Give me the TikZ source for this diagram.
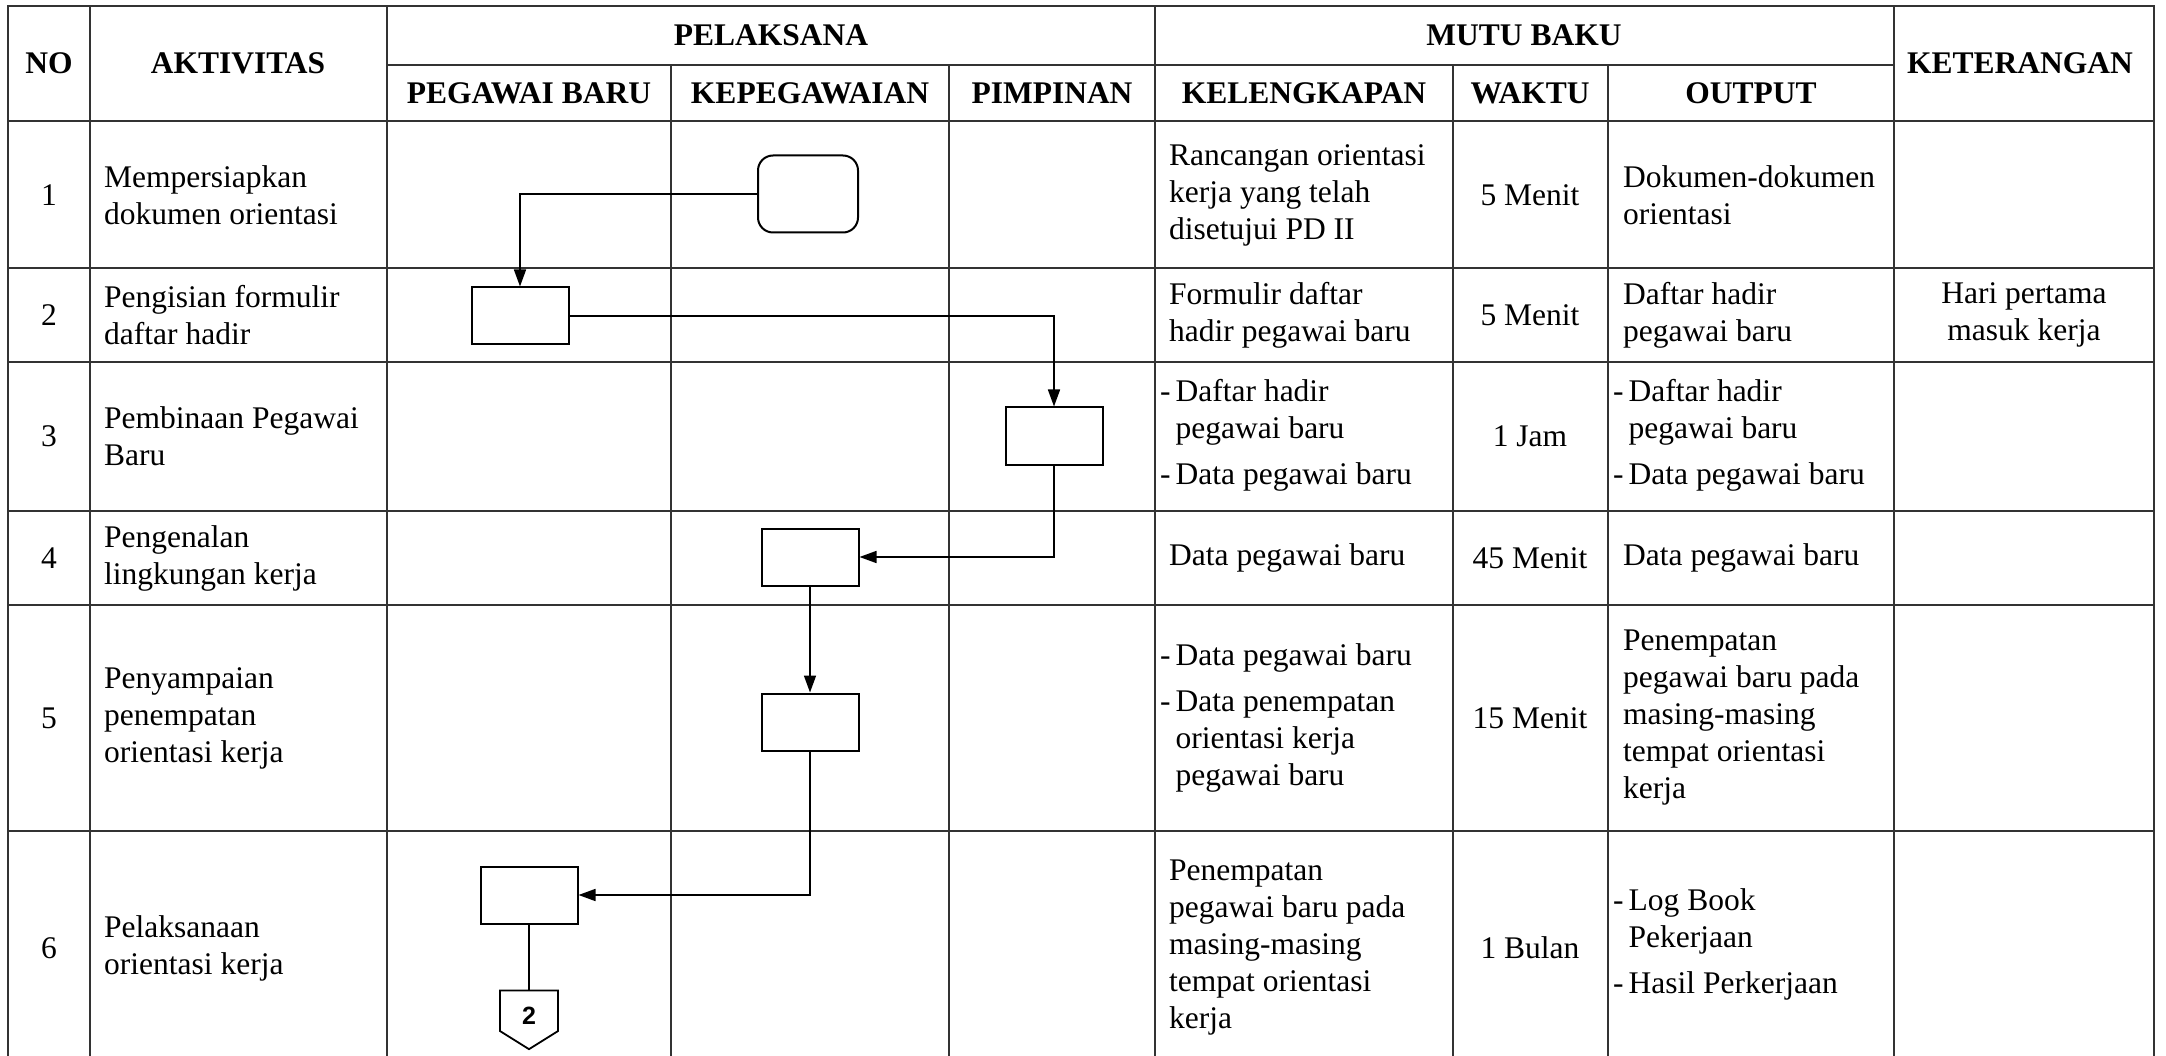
\documentclass[tikz,border=0pt]{standalone}
\usepackage{fontspec}
\setmainfont{Liberation Serif}
\setsansfont{Liberation Sans}
\newcommand{\cellfont}{\fontsize{31.5}{37}\selectfont}
\tikzset{
    rule/.style={draw=black!80, line width=1.8pt},
    head/.style={font=\cellfont\bfseries},
    cell/.style={anchor=west, align=left, inner sep=0pt},
    mid/.style={align=center, inner sep=0pt},
    procbox/.style={draw, rectangle, line width=2pt, minimum width=97pt, minimum height=57pt},
    startbox/.style={procbox, rounded corners=15pt, minimum width=100pt, minimum height=77pt},
    flow/.style = {-{Triangle[length=17pt, width=12pt]}, line width=1.6pt},
    offpage/.style={draw, line width=1.8pt, signal, signal to=south, signal pointer angle=116,
        minimum width=58pt, minimum height=45pt, inner sep=0pt, text height=27pt, text depth=0pt,
        font=\sffamily\bfseries\fontsize{25}{29}\selectfont} }
\usetikzlibrary{arrows.meta, positioning, shapes.symbols}
\newcommand{\dlist}[1]{\begin{tabular}{@{}l@{\hspace{5pt}}l@{}}#1\end{tabular}}

\begin{document}
\begin{tikzpicture}[x=1pt, y=-1pt, node distance=106pt, font=\cellfont]
			\useasboundingbox (0,0) rectangle (2166,1056);
			% ---- grid
			\draw[rule] (8,1056) -- (8,6) -- (2154,6) -- (2154,1056);
			\draw[rule] (8,121) -- (2154,121) (8,268) -- (2154,268) (8,362) -- (2154,362)
			(8,511) -- (2154,511) (8,605) -- (2154,605) (8,831) -- (2154,831)
			(387,65) -- (1894,65);
			\draw[rule] (90,6) -- (90,1056) (387,6) -- (387,1056)
			(1155,6) -- (1155,1056) (1894,6) -- (1894,1056)
			(671,65) -- (671,1056) (949,65) -- (949,1056)
			(1453,65) -- (1453,1056) (1608,65) -- (1608,1056);
			% ---- header
			\node[head] (no) at (49,63) {NO};
			\node[head] (akt) at (238,63) {AKTIVITAS};
			\node[head] (pel) at (771,35) {PELAKSANA};
			\node[head] (pb) at (529,93) {PEGAWAI BARU};
			\node[head] (kep) at (810,93) {KEPEGAWAIAN};
			\node[head] (pim) at (1052,93) {PIMPINAN};
			\node[head] (mutu) at (1524,35) {MUTU BAKU};
			\node[head] (kel) at (1304,93) {KELENGKAPAN};
			\node[head] (wkt) at (1530,93) {WAKTU};
			\node[head] (out) at (1751,93) {OUTPUT};
			\node[head] (ket) at (2020,63) {KETERANGAN};
			% ---- row 1
			\node[mid] (n1) at (49,195) {1};
			\node[cell] (a1) at (104,195) {Mempersiapkan\\dokumen orientasi};
			\node[cell] (k1) at (1169,195) {Rancangan orientasi\\kerja yang telah\\disetujui PD II};
			\node[mid] (w1) at (1530,195) {5 Menit};
			\node[cell] (o1) at (1623,195) {Dokumen-dokumen\\orientasi};
			% ---- row 2
			\node[mid] (n2) at (49,315) {2};
			\node[cell] (a2) at (104,315) {Pengisian formulir\\daftar hadir};
			\node[cell] (k2) at (1169,315) {Formulir daftar\\hadir pegawai baru};
			\node[mid] (w2) at (1530,315) {5 Menit};
			\node[cell] (o2) at (1623,315) {Daftar hadir\\pegawai baru};
			\node[mid] (t2) at (2024,315) {Hari pertama\\masuk kerja};
			% ---- row 3
			\node[mid] (n3) at (49,436) {3};
			\node[cell] (a3) at (104,436) {Pembinaan Pegawai\\Baru};
			\node[cell] (k3) at (1160,436) {\dlist{- & Daftar hadir\\ & pegawai baru\\[9pt] - & Data pegawai baru}};
			\node[mid] (w3) at (1530,436) {1 Jam};
			\node[cell] (o3) at (1613,436) {\dlist{- & Daftar hadir\\ & pegawai baru\\[9pt] - & Data pegawai baru}};
			% ---- row 4
			\node[mid] (n4) at (49,558) {4};
			\node[cell] (a4) at (104,558) {Pengenalan\\lingkungan kerja};
			\node[cell] (k4) at (1169,558) {Data pegawai baru};
			\node[mid] (w4) at (1530,558) {45 Menit};
			\node[cell] (o4) at (1623,558) {Data pegawai baru};
			% ---- row 5
			\node[mid] (n5) at (49,718) {5};
			\node[cell] (a5) at (104,718) {Penyampaian\\penempatan\\orientasi kerja};
			\node[cell] (k5) at (1160,718) {\dlist{- & Data pegawai baru\\[9pt] - & Data penempatan\\ & orientasi kerja\\ & pegawai baru}};
			\node[mid] (w5) at (1530,718) {15 Menit};
			\node[cell] (o5) at (1623,718) {Penempatan\\pegawai baru pada\\masing-masing\\tempat orientasi\\kerja};
			% ---- row 6
			\node[mid] (n6) at (49,948) {6};
			\node[cell] (a6) at (104,948) {Pelaksanaan\\orientasi kerja};
			\node[cell] (k6) at (1169,948) {Penempatan\\pegawai baru pada\\masing-masing\\tempat orientasi\\kerja};
			\node[mid] (w6) at (1530,948) {1 Bulan};
			\node[cell] (o6) at (1613,945) {\dlist{- & Log Book\\ & Pekerjaan\\[9pt] - & Hasil Perkerjaan}};
			% ---- flow
			\node[startbox] (s1) at (808,194) {};
			\node[procbox] (b2) at (520,316) {};
			\node[procbox] (b3) at (1054,436) {};
			\node[procbox] (b4) at (810,557) {};
			\node[procbox, below = of b4] (b5) {};
			\node[procbox] (b6) at (529,895) {};
			\node[offpage, below = 65pt of b6] (c2) {2};
			\draw[flow] (s1.west) -| (b2.north);
			\draw[flow] (b2.east) -| (b3.north);
			\draw[flow] (b3.south) |- (b4.east);
			\draw[flow] (b4.south) -- (b5.north);
			\draw[flow] (b5.south) |- (b6.east);
			\draw[line width=1.6pt] (b6.south) -- (c2.north);
		\end{tikzpicture}
\end{document}
